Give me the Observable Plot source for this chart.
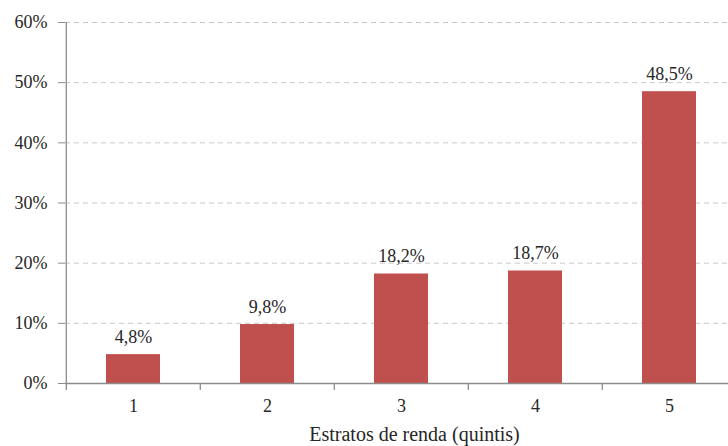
<!DOCTYPE html>
<html>
<head>
<meta charset="utf-8">
<script src="https://cdn.jsdelivr.net/npm/d3@7"></script>
<script src="https://cdn.jsdelivr.net/npm/@observablehq/plot@0.6"></script>
<style>
  html, body { margin: 0; padding: 0; background: #fff; overflow: hidden; }
  svg { font-family: "Liberation Serif", "Times New Roman", serif; }
</style>
</head>
<body>
<div id="chart"></div>
<script>
const quintis = ["1", "2", "3", "4", "5"];
const valores = [4.8, 9.8, 18.2, 18.7, 48.5];
const yTicks = [0, 10, 20, 30, 40, 50, 60];
const xTitle = "Estratos de renda (quintis)";

const data = quintis.map((q, i) => ({q, v: valores[i]}));
const fmt = v => v.toFixed(1).replace(".", ",") + "%";

const width = 728, height = 446;
const mL = 65, mR = -9, mT = 22, mB = 63;
const step = (width - mL - mR) / quintis.length;

const plot = Plot.plot({
  width, height,
  marginLeft: mL, marginRight: mR, marginTop: mT, marginBottom: mB,
  style: {fontFamily: '"Liberation Serif", "Times New Roman", serif', fontSize: "18px", color: "#262626"},
  x: {domain: quintis, paddingInner: 0.6, paddingOuter: 0.3, align: 0.5},
  y: {domain: [0, 60], ticks: yTicks},
  marks: [
    Plot.gridY(yTicks.filter(d => d > 0), {stroke: "#c8c8c8", strokeOpacity: 1, strokeDasharray: "5,4", strokeWidth: 1}),
    Plot.barY(data, {x: "q", y: "v", fill: "#C0504D"}),
    Plot.text(data, {x: "q", y: "v", text: d => fmt(d.v), lineAnchor: "bottom", dy: -12, fontSize: 18, fill: "#262626"}),
    Plot.ruleY([0], {stroke: "#8c8c8c", strokeWidth: 1.3}),
    Plot.ruleX([quintis[0]], {x: d => d, dx: -step / 2, y1: 60, y2: 0, insetBottom: -7, stroke: "#8c8c8c", strokeWidth: 1.3}),
    Plot.ruleX(quintis.slice(1), {x: d => d, dx: -step / 2, y1: 0, y2: 0, insetBottom: -7, stroke: "#8c8c8c", strokeWidth: 1.3}),
    Plot.axisY({ticks: yTicks, tickFormat: d => d + "%", tickSize: 7, tickPadding: 11, stroke: "#8c8c8c", fontSize: 18, label: null}),
    Plot.axisX({tickSize: 0, tickPadding: 16, fontSize: 18, label: null}),
    Plot.text([xTitle], {frameAnchor: "bottom", dx: 13, dy: 51, lineAnchor: "middle", fontSize: 20, fill: "#262626", text: d => d})
  ]
});
document.getElementById("chart").appendChild(plot);
</script>
</body>
</html>
